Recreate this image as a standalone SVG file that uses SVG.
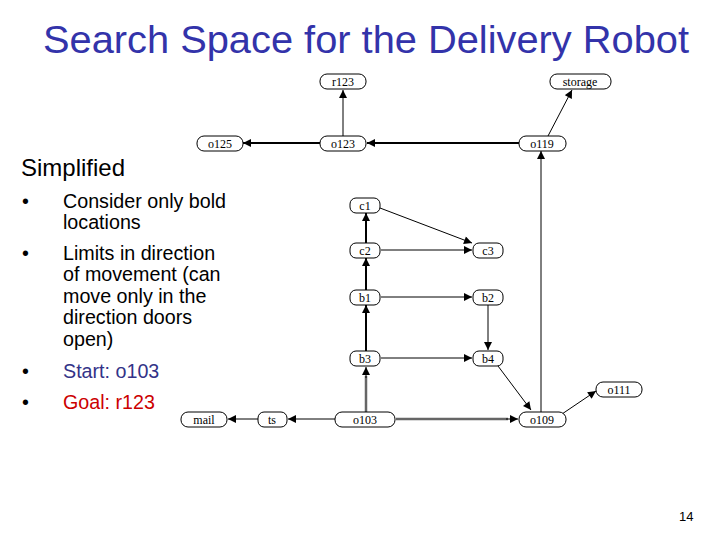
<svg xmlns="http://www.w3.org/2000/svg" width="720" height="540" viewBox="0 0 720 540">
<style>
.n rect{fill:#fff;stroke:#000;stroke-width:1}
.n text{font-family:"Liberation Serif",serif;font-size:12px;text-anchor:middle;fill:#000}
.e{fill:none;stroke:#000;stroke-width:1}
.t{stroke-width:2}
.g{stroke:#666;stroke-width:2.5}
.bt{font-family:"Liberation Sans",Arial,sans-serif;font-size:19.7px;fill:#000}
</style>
<defs>
<marker id="a" viewBox="0 0 10 10" refX="10" refY="5" markerWidth="10" markerHeight="8" markerUnits="userSpaceOnUse" orient="auto"><path d="M0,0L10,5L0,10z" fill="#000"/></marker>
</defs>
<rect width="720" height="540" fill="#fff"/>
<text x="43" y="53" font-family="Liberation Sans,Arial,sans-serif" font-size="38" fill="#3333aa" textLength="646" lengthAdjust="spacingAndGlyphs">Search Space for the Delivery Robot</text>
<text x="21" y="176" font-family="Liberation Sans,Arial,sans-serif" font-size="24">Simplified</text>
<g class="bt">
<text x="22" y="208">•</text><text x="63" y="208">Consider only bold</text><text x="63" y="229">locations</text>
<text x="22" y="260">•</text><text x="63" y="260">Limits in direction</text><text x="63" y="281">of movement (can</text><text x="63" y="303">move only in the</text><text x="63" y="324">direction doors</text><text x="63" y="346">open)</text>
<text x="22" y="378">•</text><text x="63" y="378" fill="#333388">Start: o103</text>
<text x="22" y="409">•</text><text x="63" y="409" fill="#cc0000">Goal: r123</text>
</g>
<text x="679" y="521" font-family="Liberation Sans,Arial,sans-serif" font-size="13">14</text>
<g id="connectors">
<path class="e" d="M343,136V90" marker-end="url(#a)"/>
<path class="e t" d="M320,143H243" marker-end="url(#a)"/>
<path class="e t" d="M519,143H367" marker-end="url(#a)"/>
<path class="e" d="M548,136L572,90" marker-end="url(#a)"/>
<path class="e" d="M541,412V151" marker-end="url(#a)"/>
<path class="e t" d="M366,243V213" marker-end="url(#a)"/>
<path class="e" d="M380,208L472,243" marker-end="url(#a)"/>
<path class="e" d="M381,250H472" marker-end="url(#a)"/>
<path class="e t" d="M366,290V258" marker-end="url(#a)"/>
<path class="e" d="M381,297H472" marker-end="url(#a)"/>
<path class="e" d="M488,304V350" marker-end="url(#a)"/>
<path class="e t" d="M366,351V305" marker-end="url(#a)"/>
<path class="e" d="M381,358H472" marker-end="url(#a)"/>
<path class="e g" d="M366,412V376"/>
<path class="e" d="M366,378V367" marker-end="url(#a)"/>
<path class="e" d="M498,366L531,410" marker-end="url(#a)"/>
<path class="e g" d="M396,419H508"/>
<path class="e" d="M506,419H518" marker-end="url(#a)"/>
<path class="e" d="M562,414L596,391" marker-end="url(#a)"/>
<path class="e" d="M335,419H288" marker-end="url(#a)"/>
<path class="e" d="M258,419H228" marker-end="url(#a)"/>
</g>
<g id="r123" class="n"><rect x="320" y="74" width="46" height="15" rx="7"/><text x="343" y="85.5">r123</text></g>
<g id="storage" class="n"><rect x="550" y="74" width="61" height="15" rx="7"/><text x="580" y="85.5">storage</text></g>
<g id="o125" class="n"><rect x="197" y="136" width="46" height="15" rx="7"/><text x="220" y="147.5">o125</text></g>
<g id="o123" class="n"><rect x="320" y="136" width="46" height="15" rx="7"/><text x="343" y="147.5">o123</text></g>
<g id="o119" class="n"><rect x="519" y="136" width="47" height="15" rx="7"/><text x="542" y="147.5">o119</text></g>
<g id="c1" class="n"><rect x="350" y="198" width="30" height="15" rx="6"/><text x="365" y="209.5">c1</text></g>
<g id="c2" class="n"><rect x="350" y="243" width="30" height="15" rx="6"/><text x="365" y="254.5">c2</text></g>
<g id="c3" class="n"><rect x="473" y="243" width="30" height="15" rx="6"/><text x="488" y="254.5">c3</text></g>
<g id="b1" class="n"><rect x="350" y="290" width="30" height="15" rx="6"/><text x="365" y="301.5">b1</text></g>
<g id="b2" class="n"><rect x="473" y="290" width="30" height="15" rx="6"/><text x="488" y="301.5">b2</text></g>
<g id="b3" class="n"><rect x="350" y="351" width="30" height="15" rx="6"/><text x="365" y="362.5">b3</text></g>
<g id="b4" class="n"><rect x="473" y="351" width="30" height="15" rx="6"/><text x="488" y="362.5">b4</text></g>
<g id="o111" class="n"><rect x="596" y="382" width="46" height="15" rx="7"/><text x="619" y="393.5">o111</text></g>
<g id="o109" class="n"><rect x="519" y="412" width="47" height="15" rx="7"/><text x="542" y="423.5">o109</text></g>
<g id="o103" class="n"><rect x="335" y="412" width="60" height="15" rx="7"/><text x="365" y="423.5">o103</text></g>
<g id="ts" class="n"><rect x="258" y="412" width="29" height="15" rx="6"/><text x="272" y="423.5">ts</text></g>
<g id="mail" class="n"><rect x="181" y="412" width="46" height="15" rx="7"/><text x="204" y="423.5">mail</text></g>
</svg>
